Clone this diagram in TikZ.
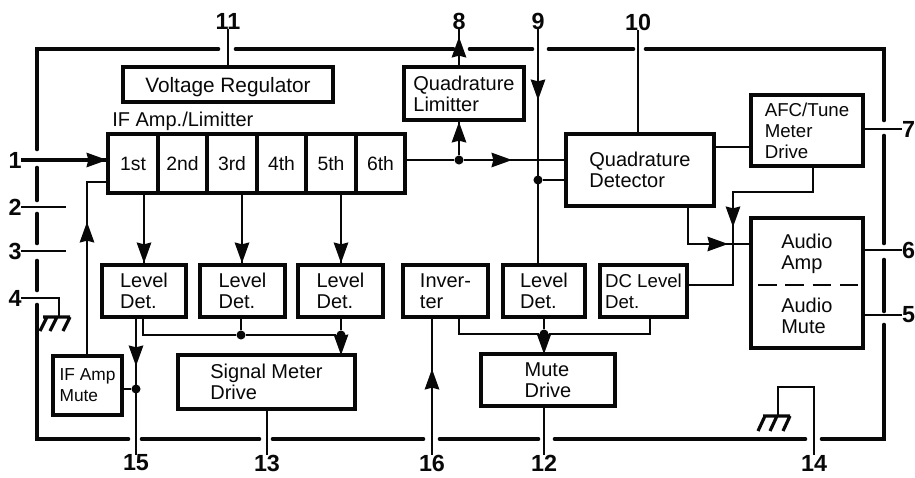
\documentclass[tikz,border=0pt]{standalone}
\usepackage{fontspec}
\setmainfont{Liberation Sans}
\usetikzlibrary{calc}
\tikzset{
  boxbase/.style={draw=ink,fill=white,outer sep=0pt,inner sep=0pt,align=left,text=ink,text depth=0pt,font=\fontsize{15}{15.75}\selectfont},
  box/.style={boxbase,line width=3.7pt},
  widebox/.style={box,font=\fontsize{15.6}{15.75}\selectfont},
  thinbox/.style={boxbase,line width=3pt,font=\fontsize{14}{15.75}\selectfont},
  smallbox/.style={boxbase,line width=3pt,font=\fontsize{13}{15.75}\selectfont},
  cell/.style={boxbase,line width=2.4pt,font=\fontsize{14.5}{15}\selectfont},
  sig/.style={draw=ink,line width=2.1pt,line join=miter},
  frame/.style={draw=ink,line width=3.5pt,line cap=round},
  gnd/.style={draw=ink,line width=2.4pt},
  pin/.style={text=ink,inner sep=0pt,outer sep=0pt,font=\fontsize{17.5}{17.5}\bfseries\selectfont},
  dot/.style={circle,fill=ink,inner sep=0pt,minimum size=6.8pt,outer sep=0pt},
  lab/.style={text=ink,inner sep=0pt,align=left,font=\fontsize{15}{15.75}\selectfont},
}
\definecolor{ink}{gray}{0.03}
\newcommand{\bx}[7][box]{%
  \pgfmathsetmacro{\bxcx}{(#3+#5)/2}\pgfmathsetmacro{\bxcy}{(#4+#6)/2}%
  \pgfmathsetmacro{\bxw}{(#5-#3)*0.75}\pgfmathsetmacro{\bxh}{(#6-#4)*0.75}%
  \node[#1,minimum width=\bxw pt,minimum height=\bxh pt] (#2) at (\bxcx,\bxcy) {#7};}
\newcommand{\tip}[3]{\fill[ink,shift={(#1,#2)},rotate=#3,x=1pt,y=1pt] (0,0)--(-15.5,5.6)--(-14,0)--(-15.5,-5.6)--cycle;}
\begin{document}
\begin{tikzpicture}[x=0.75pt,y=-0.75pt]
\useasboundingbox (0,0) rectangle (915,478);
% package frame
\draw[frame] (218,49) -- (37,49) -- (37,149);
\draw[frame] (236,49) -- (453,49);
\draw[frame] (470,49) -- (532,49);
\draw[frame] (549,49) -- (633,49);
\draw[frame] (646,49) -- (884,49) -- (884,120);
\draw[frame] (884,136) -- (884,243);
\draw[frame] (884,260) -- (884,311);
\draw[frame] (884,325) -- (884,439) -- (822,439);
\draw[frame] (805,439) -- (555,439);
\draw[frame] (538,439) -- (440,439);
\draw[frame] (423,439) -- (273,439);
\draw[frame] (259,439) -- (142,439);
\draw[frame] (128,439) -- (37,439) -- (37,305);
\draw[frame] (37,290) -- (37,261);
\draw[frame] (37,243) -- (37,214);
\draw[frame] (37,200) -- (37,168);
% blocks
\bx[widebox]{vreg}{123}{67}{333}{102}{Voltage Regulator}
\bx[cell]{c1}{108}{134}{158}{193}{1st}
\bx[cell]{c2}{158}{134}{207}{193}{2nd}
\bx[cell]{c3}{207}{134}{257}{193}{3rd}
\bx[cell]{c4}{257}{134}{306}{193}{4th}
\bx[cell]{c5}{306}{134}{356}{193}{5th}
\bx[cell]{c6}{356}{134}{405}{193}{6th}
\draw[draw=ink,line width=3.7pt] (108,134) rectangle (405,193);
\node[lab,anchor=west] (iflab) at (112,121) {IF Amp./Limitter};
\bx{qlim}{404}{67}{524}{120}{Quadrature\\Limitter}
\bx{qdet}{566}{134}{714}{206}{Quadrature\\Detector}
\bx[thinbox]{afc}{751}{95}{863}{166}{AFC/Tune\\Meter\\Drive}
\bx{audio}{751}{218}{863}{348}{}
\node[lab,anchor=west,text depth=0pt] (amp) at (781,252) {Audio\\Amp};
\node[lab,anchor=west,text depth=0pt] (mutel) at (781,316) {Audio\\Mute};
\draw[draw=ink,line width=1.6pt,dash pattern=on 14pt off 6.5pt] (758,285) -- (858,285);
\bx{ld1}{102}{265}{186}{317}{Level\\Det.}
\bx{ld2}{200}{265}{285}{317}{Level\\Det.}
\bx{ld3}{298}{265}{383}{317}{Level\\Det.}
\bx{inv}{403}{265}{488}{317}{Inver-\\ter}
\bx{ld4}{503}{265}{585}{317}{Level\\Det.}
\bx[thinbox]{dcl}{600}{265}{687}{317}{DC Level\\Det.}
\bx[smallbox]{mutea}{53}{356}{122}{415}{IF Amp\\Mute}
\bx{smd}{178}{355}{355}{409}{Signal Meter\\Drive}
\bx{mdr}{481}{354}{615}{406}{Mute\\Drive}
% pin labels
\node[pin] (n11) at (228,21) {11};
\node[pin] (n8) at (459,21) {8};
\node[pin] (n9) at (538,21) {9};
\node[pin] (n10) at (638,22) {10};
\node[pin,anchor=east] (n7) at (915,129) {7};
\node[pin,anchor=east] (n6) at (915,250) {6};
\node[pin,anchor=east] (n5) at (915,315) {5};
\node[pin] (n1) at (15,160) {1};
\node[pin] (n2) at (15,207) {2};
\node[pin] (n3) at (15,251) {3};
\node[pin] (n4) at (15,298) {4};
\node[pin] (n15) at (136,463) {15};
\node[pin] (n13) at (267,463) {13};
\node[pin] (n16) at (432,463) {16};
\node[pin] (n12) at (544,463) {12};
\node[pin] (n14) at (814,463) {14};
% free ends and junctions
\coordinate (e2) at (66,207);
\coordinate (e3) at (66,251);
\node[dot] (j8) at (459,160) {};
\node[dot] (j9) at (538,180) {};
\node[dot] (j15) at (136,389) {};
\node[dot] (ja) at (241,335) {};
\node[dot] (jb) at (341,335) {};
\node[dot] (jc) at (544,334) {};
% pins
\draw[sig] (n11) -- (vreg.north -| n11);
\draw[sig,line width=2.4pt] (n1) -- (c1.west |- n1);
\tip{107}{160}{0}
\draw[sig] (n2) -- (e2);
\draw[sig] (n3) -- (e3);
\draw[sig] (n4) -- (59,298) -- (59,317);
\draw[gnd] (43,317) -- (70,317) (47,317) -- (40,331) (57,317) -- (50,331) (70,317) -- (63,331);
% IF stages
\draw[sig] (mutea.north -| 87,0) -- (87,182) -- (c1.west |- 0,182);
\tip{87}{222}{90}
\draw[sig] (144,193) -- (ld1.north -| 144,0);
\tip{144}{263}{-90}
\draw[sig] (242,193) -- (ld2.north -| 242,0);
\tip{242}{263}{-90}
\draw[sig] (341,193) -- (ld3.north -| 341,0);
\tip{341}{263}{-90}
% level detectors to meter and mute
\draw[sig] (ld1.south -| n15) -- (n15);
\tip{136}{366}{-90}
\draw[sig] (mutea.east |- j15) -- (j15);
\draw[sig] (143,317) -- (143,335) -- (ja) -- (jb);
\draw[sig] (ld2.south -| ja) -- (ja);
\draw[sig] (ld3.south -| jb) -- (jb) -- (smd.north -| jb);
\tip{341}{355}{-90}
\draw[sig] (smd.south -| n13) -- (n13);
\draw[sig] (n16) -- (inv.south -| n16);
\tip{432}{369}{90}
\draw[sig] (459,317) -- (459,334) -- (jc) -- (650,334) -- (dcl.south -| 650,0);
\draw[sig] (ld4.south -| jc) -- (jc) -- (mdr.north -| jc);
\tip{544}{354}{-90}
\draw[sig] (mdr.south -| n12) -- (n12);
% limiter and detector
\draw[sig] (c6.east |- j8) -- (j8) -- (qdet.west |- j8);
\tip{512}{160}{0}
\draw[sig] (j8) -- (qlim.south -| j8);
\tip{459}{122}{90}
\draw[sig] (qlim.north -| n8) -- (n8);
\tip{459}{37}{90}
\draw[sig] (n9) -- (ld4.north -| n9);
\tip{538}{100}{-90}
\draw[sig] (j9) -- (qdet.west |- j9);
\draw[sig,line width=1.5pt] (n10) -- (qdet.north -| n10);
\draw[sig] (qdet.east |- 0,147) -- (afc.west |- 0,147);
\draw[sig] (qdet.south -| 688,0) -- (688,244) -- (audio.west |- 0,244);
\tip{728}{244}{0}
\draw[sig] (afc.south -| 813,0) -- (813,192) -- (733,192) -- (733,285) -- (dcl.east |- 0,285);
\tip{733}{227}{-90}
% outputs
\draw[sig] (afc.east |- n7) -- (n7);
\draw[sig] (audio.east |- n6) -- (n6);
\draw[sig] (audio.east |- n5) -- (n5);
% pin 14 ground
\draw[sig] (n14) -- (814,387) -- (778,387) -- (778,416);
\draw[gnd] (763,416) -- (790,416) (765,416) -- (758,431) (777,416) -- (770,431) (790,416) -- (783,431);
\end{tikzpicture}
\end{document}
